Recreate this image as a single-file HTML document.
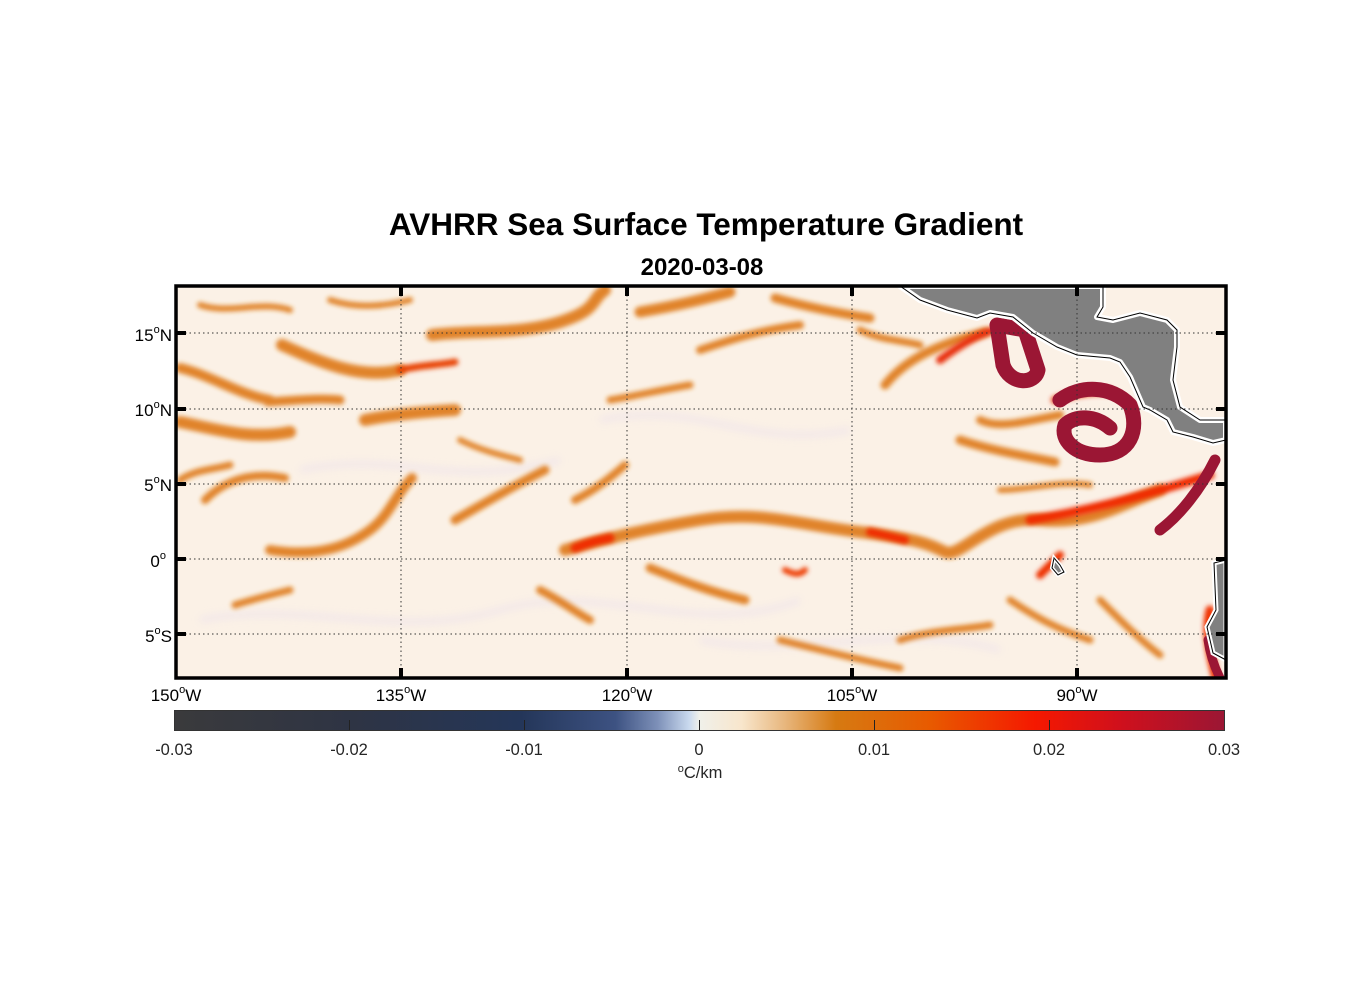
<!DOCTYPE html>
<html><head><meta charset="utf-8"><style>
html,body{margin:0;padding:0;background:#fff;}
body{width:1356px;height:1000px;position:relative;overflow:hidden;font-family:"Liberation Sans",Arial,sans-serif;}
</style></head><body>
<svg width="1356" height="1000" viewBox="0 0 1356 1000" xmlns="http://www.w3.org/2000/svg" style="position:absolute;left:0;top:0">
<defs>
<filter id="b" x="-20%" y="-20%" width="140%" height="140%"><feGaussianBlur stdDeviation="2.5"/></filter>
<filter id="b2" x="-20%" y="-20%" width="140%" height="140%"><feGaussianBlur stdDeviation="4"/></filter>
<clipPath id="c"><rect x="176" y="286" width="1050" height="392"/></clipPath>
<linearGradient id="cb" x1="0" x2="1" y1="0" y2="0">
<stop offset="0" stop-color="#3a3a3c"/>
<stop offset="0.17" stop-color="#2e3444"/>
<stop offset="0.33" stop-color="#243659"/>
<stop offset="0.42" stop-color="#3d5282"/>
<stop offset="0.46" stop-color="#7d90b8"/>
<stop offset="0.49" stop-color="#c9d9ee"/>
<stop offset="0.5" stop-color="#f0f0ea"/>
<stop offset="0.54" stop-color="#f8e6cc"/>
<stop offset="0.58" stop-color="#e8b880"/>
<stop offset="0.63" stop-color="#d67a12"/>
<stop offset="0.72" stop-color="#e85a00"/>
<stop offset="0.82" stop-color="#f51800"/>
<stop offset="0.9" stop-color="#d0101c"/>
<stop offset="1" stop-color="#9b1634"/>
</linearGradient>
</defs>
<text x="706" y="235" text-anchor="middle" font-size="31.5" font-weight="bold" fill="#000">AVHRR Sea Surface Temperature Gradient</text>
<text x="702" y="275" text-anchor="middle" font-size="24" font-weight="bold" fill="#000">2020-03-08</text>
<g clip-path="url(#c)">
<rect x="176" y="286" width="1050" height="392" fill="#fbf1e6"/>
<g fill="none" stroke="#efe4ea" stroke-width="6" opacity="0.8" filter="url(#b2)">
<path d="M200 620 C300 600 400 640 500 610 S700 640 800 600"/>
<path d="M600 420 C700 400 750 450 850 430"/>
<path d="M300 470 C400 450 450 490 560 460"/>
<path d="M700 640 C800 660 900 620 1000 650"/>
</g>
<g fill="none" stroke="#de7812" stroke-linecap="round" filter="url(#b)" opacity="0.9">
<path stroke-width="12" d="M565 550 C600 540 640 530 700 520 S800 525 860 532 S930 545 945 552 S990 515 1040 520 S1120 505 1160 490 1210 478"/>
<path stroke-width="10" d="M270 550 C320 558 350 545 370 530 S395 495 412 478"/>
<path stroke-width="12" d="M282 345 C320 362 360 380 400 370"/>
<path stroke-width="12" d="M180 422 C220 430 250 440 290 432"/>
<path stroke-width="10" d="M180 368 C210 375 240 395 270 400"/>
<path stroke-width="9" d="M268 402 C300 400 320 398 340 400"/>
<path stroke-width="12" d="M365 420 C390 415 420 412 455 410"/>
<path stroke-width="12" d="M432 335 C470 330 520 335 560 322 S590 300 605 290"/>
<path stroke-width="11" d="M640 312 C680 305 700 300 730 292"/>
<path stroke-width="9" d="M775 298 C800 305 830 312 870 318"/>
<path stroke-width="9" d="M885 385 C905 360 935 345 985 332"/>
<path stroke-width="9" d="M960 440 C990 450 1020 455 1055 462"/>
<path stroke-width="9" d="M545 470 C515 485 490 500 455 520"/>
<path stroke-width="8" d="M575 500 C595 490 610 478 625 465"/>
<path stroke-width="9" d="M650 568 C680 580 710 592 745 600"/>
<path stroke-width="8" d="M540 590 C560 600 575 612 590 620"/>
<path stroke-width="8" d="M205 500 C220 485 245 470 285 478"/>
<path stroke-width="7" d="M235 605 C250 600 270 595 290 590"/>
<path stroke-width="7" d="M180 480 C195 470 210 470 230 465"/>
<path stroke-width="8" d="M700 350 C730 340 760 330 800 325"/>
<path stroke-width="7" d="M610 400 C640 395 660 390 690 385"/>
<path stroke-width="7" d="M860 330 C880 340 900 340 920 345"/>
<path stroke-width="8" d="M980 420 C1000 430 1030 420 1060 415"/>
<path stroke-width="7" d="M900 640 C930 630 960 630 990 625"/>
<path stroke-width="7" d="M1010 600 C1040 620 1060 630 1090 640"/>
<path stroke-width="7" d="M1100 600 C1120 620 1140 640 1160 655"/>
<path stroke-width="7" d="M780 640 C820 650 860 660 900 668"/>
<path stroke-width="6" d="M1000 490 C1030 490 1060 480 1090 485"/>
<path stroke-width="6" d="M460 440 C480 450 500 455 520 460"/>
<path stroke-width="6" d="M330 300 C360 310 390 305 410 300"/>
<path stroke-width="6" d="M200 305 C230 315 260 300 290 310"/>
</g>
<g fill="none" stroke-linecap="round" filter="url(#b)">
<path stroke="#f02a00" stroke-width="9" d="M575 548 C590 542 600 540 610 538"/>
<path stroke="#f02a00" stroke-width="8" d="M870 532 C885 535 895 538 905 540"/>
<path stroke="#f02a00" stroke-width="9" d="M1030 520 C1080 512 1130 500 1210 475"/>
<path stroke="#e8300a" stroke-width="8" d="M940 360 C960 345 980 333 995 330"/>
<path stroke="#e8300a" stroke-width="8" d="M1055 400 C1070 395 1090 390 1110 392"/>
<path stroke="#e84000" stroke-width="7" d="M400 370 C420 365 440 365 455 362"/>
<path stroke="#f03000" stroke-width="9" d="M1210 610 C1205 630 1210 655 1216 678"/>
<path stroke="#ee3000" stroke-width="8" d="M1040 575 C1050 565 1055 560 1060 555"/>
<path stroke="#ee3a00" stroke-width="6" d="M785 570 C795 575 800 575 805 570"/>
</g>
<g fill="none" stroke="#9b1634" stroke-linecap="round" stroke-linejoin="round">
<path stroke-width="15" d="M997 325 L1003 365 C1010 385 1035 385 1038 370 L1025 330 Z"/>
<path stroke-width="15" d="M1060 400 C1080 385 1110 385 1130 405 C1140 430 1130 455 1100 455 C1075 455 1060 440 1065 425 C1075 415 1095 415 1110 428"/>
<path stroke-width="11" d="M1215 460 C1200 490 1180 515 1160 530"/>
<path stroke-width="9" d="M1208 640 C1210 655 1215 668 1220 678"/>
</g>
<path fill="#808080" stroke="#fff" stroke-width="6" stroke-linejoin="round" d="M900 286 L920 300 L947 310 L977 318 L990 313 L1013 317 L1033 333 L1057 347 L1077 355 L1110 358 L1120 362 L1130 377 L1143 407 L1150 410 L1167 420 L1173 432 L1193 437 L1213 443 L1226 440 L1226 420 L1200 420 L1180 407 L1173 380 L1177 347 L1177 330 L1167 320 L1140 313 L1113 320 L1097 317 L1103 307 L1103 286 Z"/>
<path fill="none" stroke="#000" stroke-width="1" d="M900 286 L920 300 L947 310 L977 318 L990 313 L1013 317 L1033 333 L1057 347 L1077 355 L1110 358 L1120 362 L1130 377 L1143 407 L1150 410 L1167 420 L1173 432 L1193 437 L1213 443 L1226 440 M1226 420 L1200 420 L1180 407 L1173 380 L1177 347 L1177 330 L1167 320 L1140 313 L1113 320 L1097 317 L1103 307 L1103 286"/>
<path fill="#808080" stroke="#fff" stroke-width="5" d="M1226 560 L1214 563 L1216 610 L1207 627 L1213 653 L1226 660 Z"/>
<path fill="none" stroke="#000" stroke-width="1" d="M1226 560 L1214 563 L1216 610 L1207 627 L1213 653 L1226 660"/>
<path fill="#808080" stroke="#fff" stroke-width="4" d="M1054 558 L1060 565 L1064 572 L1058 575 L1052 568 Z"/>
<path fill="none" stroke="#000" stroke-width="1" d="M1054 558 L1060 565 L1064 572 L1058 575 L1052 568 Z"/>
<g stroke="#333" stroke-width="1" stroke-dasharray="1.5,3">
<line x1="401" y1="286" x2="401" y2="678"/><line x1="627" y1="286" x2="627" y2="678"/><line x1="852" y1="286" x2="852" y2="678"/><line x1="1077" y1="286" x2="1077" y2="678"/>
<line x1="176" y1="333" x2="1226" y2="333"/><line x1="176" y1="409" x2="1226" y2="409"/><line x1="176" y1="484" x2="1226" y2="484"/><line x1="176" y1="559" x2="1226" y2="559"/><line x1="176" y1="634" x2="1226" y2="634"/>
</g>
</g>
<rect x="176" y="286" width="1050" height="392" fill="none" stroke="#000" stroke-width="3.5"/>
<g stroke="#000" stroke-width="4">
<line x1="401" y1="286" x2="401" y2="296"/><line x1="627" y1="286" x2="627" y2="296"/><line x1="852" y1="286" x2="852" y2="296"/><line x1="1077" y1="286" x2="1077" y2="296"/>
<line x1="401" y1="668" x2="401" y2="678"/><line x1="627" y1="668" x2="627" y2="678"/><line x1="852" y1="668" x2="852" y2="678"/><line x1="1077" y1="668" x2="1077" y2="678"/>
<line x1="176" y1="333" x2="186" y2="333"/><line x1="176" y1="409" x2="186" y2="409"/><line x1="176" y1="484" x2="186" y2="484"/><line x1="176" y1="559" x2="186" y2="559"/><line x1="176" y1="634" x2="186" y2="634"/>
<line x1="1216" y1="333" x2="1226" y2="333"/><line x1="1216" y1="409" x2="1226" y2="409"/><line x1="1216" y1="484" x2="1226" y2="484"/><line x1="1216" y1="559" x2="1226" y2="559"/><line x1="1216" y1="634" x2="1226" y2="634"/>
</g>
<g font-size="17" fill="#000" text-anchor="end">
<text x="172" y="341">15<tspan font-size="11" dy="-8">o</tspan><tspan dy="8">N</tspan></text>
<text x="172" y="416">10<tspan font-size="11" dy="-8">o</tspan><tspan dy="8">N</tspan></text>
<text x="172" y="491">5<tspan font-size="11" dy="-8">o</tspan><tspan dy="8">N</tspan></text>
<text x="166" y="567">0<tspan font-size="11" dy="-8">o</tspan></text>
<text x="172" y="642">5<tspan font-size="11" dy="-8">o</tspan><tspan dy="8">S</tspan></text>
</g>
<g font-size="17" fill="#000" text-anchor="middle">
<text x="176" y="701">150<tspan font-size="11" dy="-8">o</tspan><tspan dy="8">W</tspan></text>
<text x="401" y="701">135<tspan font-size="11" dy="-8">o</tspan><tspan dy="8">W</tspan></text>
<text x="627" y="701">120<tspan font-size="11" dy="-8">o</tspan><tspan dy="8">W</tspan></text>
<text x="852" y="701">105<tspan font-size="11" dy="-8">o</tspan><tspan dy="8">W</tspan></text>
<text x="1077" y="701">90<tspan font-size="11" dy="-8">o</tspan><tspan dy="8">W</tspan></text>
</g>
<rect x="174.5" y="710.5" width="1050" height="20" fill="url(#cb)" stroke="#333" stroke-width="1"/>
<g stroke="#222" stroke-width="1">
<line x1="349.5" y1="720" x2="349.5" y2="730"/><line x1="524.5" y1="720" x2="524.5" y2="730"/><line x1="699.5" y1="720" x2="699.5" y2="730"/><line x1="874.5" y1="720" x2="874.5" y2="730"/><line x1="1049.5" y1="720" x2="1049.5" y2="730"/>
</g>
<g font-size="16.5" fill="#262626" text-anchor="middle">
<text x="174" y="755">-0.03</text><text x="349" y="755">-0.02</text><text x="524" y="755">-0.01</text><text x="699" y="755">0</text><text x="874" y="755">0.01</text><text x="1049" y="755">0.02</text><text x="1224" y="755">0.03</text>
<text x="700" y="778"><tspan font-size="11" dy="-6">o</tspan><tspan dy="6">C/km</tspan></text>
</g>
</svg>
</body></html>
